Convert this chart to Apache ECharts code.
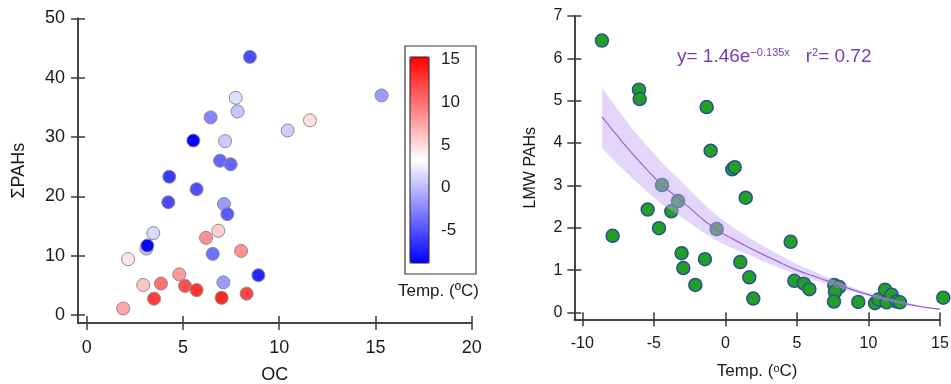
<!DOCTYPE html>
<html>
<head>
<meta charset="utf-8">
<script src="https://cdn.jsdelivr.net/npm/echarts@6/dist/echarts.min.js"></script>
<style>
  html, body { margin: 0; padding: 0; background: #fff; }
  #chart { width: 951px; height: 384px; }
</style>
</head>
<body>
<div id="chart"></div>
<script>
// left panel: OC vs sum PAHs, coloured by temperature
const leftOC   = [3.10, 8.48, 15.32, 7.74, 7.84, 6.44, 11.6, 10.44, 5.54, 7.19, 6.93, 7.48, 4.29, 5.71, 4.24, 7.13, 7.31, 3.46, 6.84, 6.20, 3.15, 2.15, 6.55, 8.02, 8.92, 4.81, 2.94, 3.86, 5.11, 5.71, 7.10, 3.50, 7.01, 8.31, 1.90];
const leftPAH  = [11.2, 43.5, 37.0, 36.6, 34.3, 33.3, 32.8, 31.1, 29.4, 29.3, 26.0, 25.4, 23.3, 21.2, 19.0, 18.7, 17.0, 13.8, 14.2, 13.0, 11.7, 9.4, 10.3, 10.8, 6.7, 6.85, 5.06, 5.3, 4.9, 4.2, 5.5, 2.75, 2.9, 3.6, 1.1];
const leftTemp = [0.5, -5.2, -1.5, 1.8, 0.5, -2.5, 4.8, 1.0, -8.5, 0.8, -4, -4, -6.0, -5, -5.3, -1.5, -4.5, 1.5, 5.5, 8.5, -8.5, 4.5, -3.5, 8.5, -7, 8, 6, 10, 11.5, 13, -1.5, 12.5, 13.5, 12, 7.5];

// right panel: temperature vs LMW PAHs
const rightTemp = [-8.63, -7.88, -6.04, -5.99, -5.43, -4.64, -4.43, -3.78, -3.31, -3.06, -2.94, -2.10, -1.43, -1.31, -1.03, -0.61, 0.48, 0.65, 1.04, 1.42, 1.67, 1.95, 4.56, 4.82, 5.49, 5.87, 7.61, 7.96, 7.66, 7.59, 9.29, 10.46, 10.69, 11.16, 11.27, 11.62, 11.97, 12.2, 15.23];
const rightLMW  = [6.42, 1.81, 5.26, 5.04, 2.43, 1.99, 3.01, 2.39, 2.63, 1.40, 1.05, 0.65, 1.26, 4.85, 3.82, 1.97, 3.38, 3.43, 1.19, 2.71, 0.83, 0.33, 1.67, 0.75, 0.68, 0.55, 0.65, 0.60, 0.49, 0.26, 0.25, 0.22, 0.31, 0.54, 0.24, 0.42, 0.26, 0.24, 0.35];

// fitted curve and its band
const fitT   = [-8.62, -7.5, -6.5, -5.5, -4.5, -3.5, -2.5, -1.5, -0.5, 0.5, 1.5, 2.5, 3.5, 5, 6.5, 8, 9.5, 11, 12.5, 14, 15];
const fitY   = [4.62, 4.15, 3.75, 3.38, 3.03, 2.75, 2.47, 2.18, 1.93, 1.74, 1.56, 1.39, 1.23, 1.00, 0.82, 0.64, 0.47, 0.33, 0.21, 0.12, 0.08];
const bandHi = [5.30, 4.78, 4.34, 3.94, 3.56, 3.23, 2.90, 2.56, 2.26, 2.02, 1.80, 1.60, 1.41, 1.14, 0.92, 0.71, 0.52, 0.37, 0.24, 0.14, 0.10];
const bandLo = [3.88, 3.49, 3.17, 2.86, 2.57, 2.35, 2.12, 1.88, 1.67, 1.52, 1.38, 1.23, 1.09, 0.89, 0.74, 0.58, 0.43, 0.30, 0.19, 0.10, 0.07];

const leftXTicks  = [0, 5, 10, 15, 20];
const leftYTicks  = [0, 10, 20, 30, 40, 50];
const rightXTicks = [-10, -5, 0, 5, 10, 15];
const rightYTicks = [0, 1, 2, 3, 4, 5, 6, 7];
const barTicks    = [-5, 0, 5, 10, 15];

const axisCol = "#3a3a3a";
const textCol = "#1a1a1a";
const font = "Liberation Sans, Arial, sans-serif";

// main axis: outward ticks, labels
const mainAxis = (extra, ticks, fs, margin) => Object.assign({
  type: "value",
  splitLine: { show: false },
  axisLine: { show: true, onZero: false, lineStyle: { color: axisCol, width: 1.5 } },
  axisTick: { show: true, inside: false, length: 7, customValues: ticks, lineStyle: { color: axisCol, width: 1.5 } },
  axisLabel: { customValues: ticks, fontSize: fs, color: textCol, fontFamily: font, margin: margin },
}, extra);
// twin axis: line + inward half of the crossing ticks
const twinAxis = (extra, ticks) => Object.assign({
  type: "value",
  splitLine: { show: false },
  axisLine: { show: true, onZero: false, lineStyle: { color: axisCol, width: 1.5 } },
  axisLabel: { show: false },
  axisTick: { show: true, inside: true, length: 7, customValues: ticks, lineStyle: { color: axisCol, width: 1.5 } },
}, extra);

const chart = echarts.init(document.getElementById("chart"));
chart.setOption({
  animation: false,
  backgroundColor: "#fff",
  textStyle: { fontFamily: font },
  title: {
    left: 672, top: 42,
    text: "y= 1.46e{sup|\u22120.135x}   r{sup|2}= 0.72",
    textStyle: {
      fontSize: 19, fontWeight: "normal", color: "#7a3ab8", fontFamily: font,
      rich: { sup: { fontSize: 11, color: "#7a3ab8", verticalAlign: "top", fontFamily: font } },
    },
  },
  grid: [
    { left: 78, top: 18.3, width: 393.7, height: 304.7, outerBoundsMode: "none", containLabel: false },
    { left: 410, top: 57, width: 19, height: 206, outerBoundsMode: "none", containLabel: false },
    { left: 574.3, top: 16, width: 365.7, height: 303.3, outerBoundsMode: "none", containLabel: false },
  ],
  xAxis: [
    mainAxis({ gridIndex: 0, min: -0.45, max: 20, position: "bottom",
      name: "OC", nameLocation: "middle", nameGap: 43,
      nameTextStyle: { fontSize: 18, color: textCol, fontFamily: font } }, leftXTicks, 18, 16),
    twinAxis({ gridIndex: 0, min: -0.45, max: 20, position: "bottom" }, leftXTicks),
    { gridIndex: 1, type: "value", show: false, min: 0, max: 1 },
    mainAxis({ gridIndex: 2, min: -10.56, max: 15, position: "bottom",
      name: "Temp. ({sup|o}C)", nameLocation: "middle", nameGap: 44,
      nameTextStyle: { fontSize: 17, color: textCol, fontFamily: font,
        rich: { sup: { fontSize: 11, verticalAlign: "top", color: textCol, fontFamily: font } } } }, rightXTicks, 16, 16),
    twinAxis({ gridIndex: 2, min: -10.56, max: 15, position: "bottom" }, rightXTicks),
  ],
  yAxis: [
    mainAxis({ gridIndex: 0, min: -1.35, max: 50, position: "left",
      name: "\u03a3PAHs", nameLocation: "middle", nameGap: 50,
      nameTextStyle: { fontSize: 18, color: textCol, fontFamily: font } }, leftYTicks, 18, 13),
    twinAxis({ gridIndex: 0, min: -1.35, max: 50, position: "left" }, leftYTicks),
    {
      gridIndex: 1, type: "value", position: "right", min: -8.8, max: 15.3,
      splitLine: { show: false },
      axisLine: { show: false },
      axisTick: { show: true, length: 10, customValues: barTicks, lineStyle: { color: axisCol, width: 1.5 } },
      axisLabel: { customValues: barTicks, fontSize: 17, color: textCol, fontFamily: font, margin: 12 },
    },
    mainAxis({ gridIndex: 2, min: -0.16, max: 7, position: "left",
      name: "LMW PAHs", nameLocation: "middle", nameGap: 36,
      nameTextStyle: { fontSize: 16, color: textCol, fontFamily: font } }, rightYTicks, 16, 12),
    twinAxis({ gridIndex: 2, min: -0.16, max: 7, position: "left" }, rightYTicks),
  ],
  visualMap: {
    type: "continuous",
    seriesIndex: 0,
    dimension: 2,
    min: -8.8, max: 15.3,
    left: 410, top: 57,
    itemWidth: 19, itemHeight: 206,
    padding: 0,
    text: null,
    showLabel: false,
    calculable: false,
    hoverLink: false,
    inRange: { color: ["#0000ff", "#ffffff", "#ff0000"] },
  },
  graphic: [
    { type: "rect", z: 10, shape: { x: 405, y: 46, width: 71, height: 228 },
      style: { fill: "none", stroke: axisCol, lineWidth: 1.2 } },
    { type: "rect", z: 10, shape: { x: 410, y: 57, width: 19, height: 206 },
      style: { fill: "none", stroke: "#222", lineWidth: 1 } },
    { type: "text", z: 10, left: 398, top: 283,
      style: { text: "Temp. (\u00baC)", fontSize: 17, fill: textCol, fontFamily: font } },
  ],
  series: [
    {
      type: "scatter",
      xAxisIndex: 0, yAxisIndex: 0,
      symbolSize: 13,
      itemStyle: { borderColor: "#8c8c8c", borderWidth: 1, opacity: 1 },
      data: leftOC.map((v, i) => [v, leftPAH[i], leftTemp[i]]),
    },
    {
      type: "scatter",
      xAxisIndex: 3, yAxisIndex: 3,
      clip: false,
      symbolSize: 13,
      itemStyle: { color: "#22a022", borderColor: "#2a4e9a", borderWidth: 1.5, opacity: 1 },
      data: rightTemp.map((v, i) => [v, rightLMW[i]]),
    },
    {
      type: "custom",
      xAxisIndex: 3, yAxisIndex: 3,
      z: 5,
      data: fitT.map((t, i) => [t, bandLo[i], bandHi[i]]),
      encode: { x: 0, y: [1, 2] },
      renderItem: (params, api) => {
        if (params.dataIndex !== 0) return null;
        const top = fitT.map((t, i) => api.coord([t, bandHi[i]]));
        const bottom = fitT.map((t, i) => api.coord([t, bandLo[i]])).reverse();
        return {
          type: "polygon",
          shape: { points: top.concat(bottom) },
          style: { fill: "rgba(196, 165, 245, 0.45)" },
        };
      },
    },
    {
      type: "line",
      xAxisIndex: 3, yAxisIndex: 3,
      z: 6,
      smooth: true,
      symbol: "none",
      lineStyle: { color: "#9a62dc", width: 1.2 },
      data: fitT.map((t, i) => [t, fitY[i]]),
    },
  ],
});
</script>
</body>
</html>
